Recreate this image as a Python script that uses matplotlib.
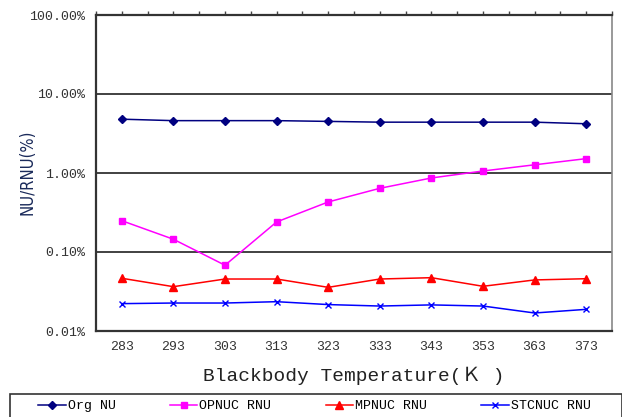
import matplotlib
matplotlib.use("Agg")
import matplotlib.pyplot as plt
from matplotlib.ticker import FixedLocator, FuncFormatter
from matplotlib.patches import Rectangle

temps = ["283", "293", "303", "313", "323", "333", "343", "353", "363", "373"]
org_nu = [4.8, 4.6, 4.6, 4.6, 4.5, 4.4, 4.4, 4.4, 4.4, 4.2]
opnuc = [0.249, 0.145, 0.068, 0.24, 0.43, 0.64, 0.865, 1.06, 1.27, 1.52]
mpnuc = [0.0465, 0.0364, 0.0455, 0.0455, 0.0357, 0.0455, 0.0473, 0.0368, 0.0443, 0.0459]
stcnuc = [0.0222, 0.0226, 0.0226, 0.0235, 0.0216, 0.0207, 0.0214, 0.0207, 0.0169, 0.0188]
ytick_vals = [0.01, 0.1, 1, 10, 100]

mono = ["Liberation Mono", "DejaVu Sans Mono"]

fig = plt.figure(figsize=(6.22, 4.17), dpi=100)
ax = fig.add_axes([96/622, 1-331/417, 516/622, 316/417])

x = list(range(len(temps)))
ax.plot(x, org_nu, color="#000080", marker="D", markersize=4, lw=1.1, label="Org NU")
ax.plot(x, opnuc, color="#FF00FF", marker="s", markersize=5, lw=1.1, label="OPNUC RNU")
ax.plot(x, mpnuc, color="#FF0000", marker="^", markersize=6, lw=1.1, label="MPNUC RNU")
ax.plot(x, stcnuc, color="#0000FF", marker="x", markersize=4, lw=1.1, label="STCNUC RNU")

ax.set_yscale("log")
ax.set_ylim(0.01, 100)
ax.set_xlim(-0.5, len(temps) - 0.5)
ax.yaxis.set_major_locator(FixedLocator(ytick_vals))
ax.yaxis.set_minor_locator(FixedLocator([]))
ax.yaxis.set_major_formatter(FuncFormatter(lambda v, p: f"{v:.2f}%"))
ax.set_xticks(x)
ax.set_xticklabels(temps)
ax.tick_params(axis="y", length=0, pad=8, labelsize=9.5, labelcolor="#333333")
ax.tick_params(axis="x", length=0, pad=7, labelsize=9.5, labelcolor="#333333")
for lab in ax.get_yticklabels() + ax.get_xticklabels():
    lab.set_family(mono)

# top tick marks
top = ax.secondary_xaxis("top")
top.set_xticks([i * 0.5 - 0.5 for i in range(2 * len(temps) + 1)])
top.set_xticklabels([])
top.tick_params(length=3, width=1, color="#444444", direction="out")
top.spines["top"].set_visible(False)

for v in ytick_vals[1:-1]:
    ax.axhline(v, color="#333333", lw=1.3, zorder=0)

for s in ["left", "bottom", "top"]:
    ax.spines[s].set_color("#333333")
    ax.spines[s].set_linewidth(1.6)
ax.spines["right"].set_color("#888888")
ax.spines["right"].set_linewidth(1.2)

ax.set_xlabel("Blackbody Temperature(\uff2b )", fontsize=14, family=mono + ["Noto Sans CJK SC"], labelpad=10, color="#222222")
fig.text(27/622, 1-172/417, "NU/RNU(%)", rotation=90, ha="center", va="center",
         fontsize=12, color="#1a2a5a", family=["DejaVu Sans"], fontstretch="condensed")

# legend frame
fig.patches.append(Rectangle((10/622, -0.01), 612/622, (1-394/417) + 0.01,
                             transform=fig.transFigure, fill=False,
                             edgecolor="#333333", lw=1.2))
leg = fig.legend(loc="center left", bbox_to_anchor=(38/622, 1-406/417),
                 ncol=4, frameon=False,
                 prop={"family": mono, "size": 9.5}, handlelength=2.1, handletextpad=0.15,
                 columnspacing=4.1, borderpad=0, borderaxespad=0)

fig.savefig("out.png", dpi=100)
